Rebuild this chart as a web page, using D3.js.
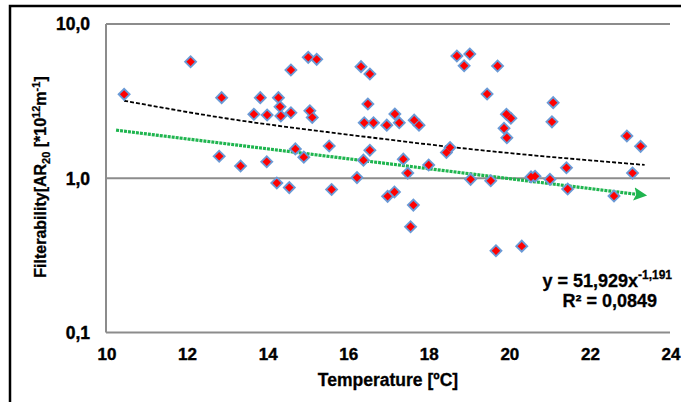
<!DOCTYPE html>
<html>
<head>
<meta charset="utf-8">
<script src="https://cdn.jsdelivr.net/npm/d3@7"></script>
<style>
  html, body { margin: 0; padding: 0; background: #fff; }
  svg text { font-family: "Liberation Sans", Arial, sans-serif; font-weight: bold; fill: #000; }
</style>
</head>
<body>
<div id="chart"></div>
<script>
// ---- data ----
const tempX = [10.45,12.10,12.87,13.83,14.28,14.32,13.67,14.00,14.34,14.59,14.59,15.02,15.23,15.06,15.12,15.54,14.70,14.91,12.81,13.34,
  13.99,14.24,14.55,15.60,16.33,16.55,16.50,16.41,16.64,16.97,17.17,17.28,17.65,17.77,16.55,16.39,16.23,17.38,17.49,18.01,
  18.45,18.54,18.71,19.03,18.89,19.72,19.46,19.94,20.05,19.88,19.95,19.05,19.55,20.55,20.65,21.02,21.10,21.07,21.43,21.46,
  22.61,22.93,23.27,23.07,16.99,17.16,17.63,17.56,19.68,20.32];
const filterY = [3.50,5.69,3.33,3.33,3.33,2.91,2.60,2.57,2.53,2.66,5.03,6.08,5.90,2.74,2.48,1.62,1.55,1.37,1.39,1.20,
  1.28,0.931,0.870,0.845,5.29,4.74,3.03,2.29,2.29,2.21,2.61,2.29,2.38,2.21,1.52,1.31,1.01,1.33,1.08,1.22,
  1.47,1.58,6.20,6.39,5.36,5.34,3.52,2.60,2.45,2.11,1.83,0.984,0.963,1.02,1.03,0.984,3.09,2.32,1.17,0.851,
  0.767,1.88,1.61,1.08,0.763,0.814,0.670,0.485,0.339,0.363];
// power trend line (y = 51,929x^-1,191) points as drawn
const trendX = [10.45, 13, 16, 19, 23.37];
const trendY = [3.18, 2.44, 1.92, 1.55, 1.22];
// green arrow
const arrowX = [10.25, 23.2];
const arrowY = [2.05, 0.785];
const xTicks = [10, 12, 14, 16, 18, 20, 22, 24];
const yTicks = [0.1, 1, 10];
const yTickLabels = ["0,1", "1,0", "10,0"];

const W = 681, H = 402;
const svg = d3.select("#chart").append("svg").attr("width", W).attr("height", H);

const x = d3.scaleLinear().domain([10, 24]).range([106, 670]);
const y = d3.scaleLog().domain([0.1, 10]).range([332.5, 24]);

// outer frame (partially visible)
svg.append("path").attr("d", `M10,${H + 5} L10,6 L${W + 5},6`)
  .attr("fill", "none").attr("stroke", "#000").attr("stroke-width", 2.5);

// gridlines / axis lines
svg.append("g").selectAll("line").data(yTicks).join("line")
  .attr("x1", 106).attr("x2", 670)
  .attr("y1", d => y(d)).attr("y2", d => y(d))
  .attr("stroke", "#8c8c8c").attr("stroke-width", 2);
svg.append("line").attr("x1", 106).attr("x2", 106).attr("y1", y(10)).attr("y2", y(0.1))
  .attr("stroke", "#8c8c8c").attr("stroke-width", 2);

// y tick labels
svg.append("g").selectAll("text").data(yTicks).join("text")
  .attr("x", 90).attr("y", d => y(d)).attr("dy", "0.36em")
  .attr("text-anchor", "end").attr("font-size", 17.5)
  .attr("stroke", "#000").attr("stroke-width", 0.4)
  .text((d, i) => yTickLabels[i]);

// x tick labels
svg.append("g").selectAll("text").data(xTicks).join("text")
  .attr("x", d => x(d) + 1).attr("y", 354).attr("dy", "0.36em")
  .attr("text-anchor", "middle").attr("font-size", 17)
  .attr("stroke", "#000").attr("stroke-width", 0.4)
  .text(d => d);

// axis titles
svg.append("text").attr("x", 388).attr("y", 380).attr("dy", "0.36em")
  .attr("text-anchor", "middle").attr("font-size", 17.5)
  .attr("stroke", "#000").attr("stroke-width", 0.3)
  .text("Temperature [ºC]");

const yt = svg.append("text").attr("transform", "translate(46,177) rotate(-90)")
  .attr("text-anchor", "middle").attr("font-size", 16)
  .attr("stroke", "#000").attr("stroke-width", 0.3);
yt.append("tspan").text("Filterability[AR");
yt.append("tspan").attr("font-size", 11).attr("dy", 4).text("20");
yt.append("tspan").attr("dy", -4).text(" [*10");
yt.append("tspan").attr("font-size", 11).attr("dy", -6).text("12");
yt.append("tspan").attr("dy", 6).text("m");
yt.append("tspan").attr("font-size", 11).attr("dy", -6).text("-1");
yt.append("tspan").attr("dy", 6).text("]");

// trend line (black dashed)
const line = d3.line().x(d => x(d[0])).y(d => y(d[1])).curve(d3.curveMonotoneX);
svg.append("path").datum(trendX.map((v, i) => [v, trendY[i]]))
  .attr("d", line).attr("fill", "none").attr("stroke", "#000")
  .attr("stroke-width", 1.8).attr("stroke-dasharray", "4,2");

// green arrow
const defs = svg.append("defs");
defs.append("marker").attr("id", "arr").attr("viewBox", "0 0 10 10")
  .attr("refX", 3).attr("refY", 5).attr("markerWidth", 4.2).attr("markerHeight", 4.2)
  .attr("orient", "auto").attr("markerUnits", "strokeWidth")
  .append("path").attr("d", "M0,0 L10,5 L0,10 L2,5 Z").attr("fill", "#1fb54f");
svg.append("path").datum(arrowX.map((v, i) => [v, arrowY[i]]))
  .attr("d", d3.line().x(d => x(d[0])).y(d => y(d[1])))
  .attr("fill", "none").attr("stroke", "#1fb54f").attr("stroke-width", 3.2)
  .attr("stroke-dasharray", "3,1").attr("marker-end", "url(#arr)");

// points (diamonds)
const pts = tempX.map((v, i) => [v, filterY[i]]);
const dia = r => `M0,${-r}L${r},0L0,${r}L${-r},0Z`;
svg.append("g").selectAll("path.o").data(pts).join("path")
  .attr("transform", d => `translate(${x(d[0])},${y(d[1])})`)
  .attr("d", dia(6.8)).attr("fill", "#6a9ad6");
svg.append("g").selectAll("path.i").data(pts).join("path")
  .attr("transform", d => `translate(${x(d[0])},${y(d[1])})`)
  .attr("d", dia(4.2)).attr("fill", "#ff0000");

// equation
const eq = svg.append("text").attr("x", 672).attr("y", 287).attr("text-anchor", "end").attr("font-size", 18)
  .attr("stroke", "#000").attr("stroke-width", 0.3);
eq.append("tspan").text("y = 51,929x");
eq.append("tspan").attr("font-size", 12).attr("dy", -8).text("-1,191");
const r2 = svg.append("text").attr("x", 657).attr("y", 307).attr("text-anchor", "end").attr("font-size", 18)
  .attr("stroke", "#000").attr("stroke-width", 0.3);
r2.append("tspan").text("R² = 0,0849");
</script>
</body>
</html>
